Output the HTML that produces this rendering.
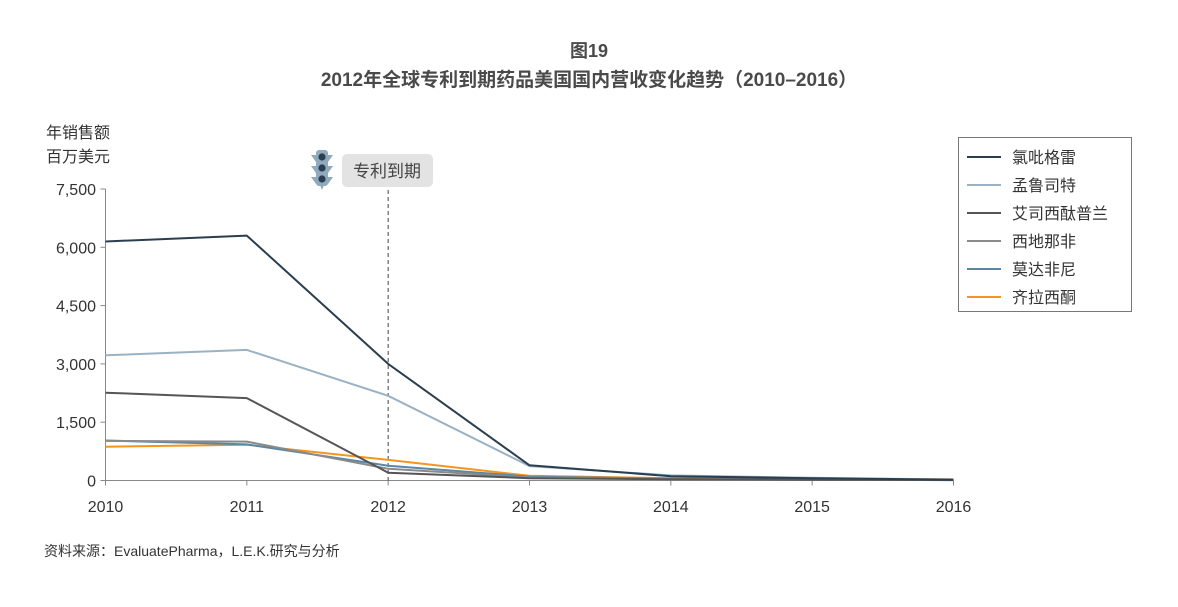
<!DOCTYPE html>
<html><head><meta charset="utf-8">
<style>
body{margin:0;background:#fff;font-family:"Liberation Sans","Noto Sans CJK SC",sans-serif;}
svg text{font-family:"Liberation Sans","Noto Sans CJK SC",sans-serif;}
</style></head>
<body>
<svg id="chart" width="1178" height="602" xmlns="http://www.w3.org/2000/svg">
<text x="589" y="57" text-anchor="middle" font-size="18" font-weight="bold" fill="#4a4a4a">图19</text>
<text x="589" y="86" text-anchor="middle" font-size="19" font-weight="bold" fill="#4a4a4a">2012年全球专利到期药品美国国内营收变化趋势（2010–2016）</text>
<text x="46" y="138" font-size="16" fill="#333">年销售额</text>
<text x="46" y="162" font-size="16" fill="#333">百万美元</text>
<g id="axes"></g>
<g id="series"></g>
<g>
<g>
<rect x="316" y="150" width="12" height="36" rx="3" fill="#8fa9bd"/>
<polygon points="311,155 316,155 316,162" fill="#8fa9bd"/>
<polygon points="333,155 328,155 328,162" fill="#8fa9bd"/>
<polygon points="311,166 316,166 316,173" fill="#8fa9bd"/>
<polygon points="333,166 328,166 328,173" fill="#8fa9bd"/>
<polygon points="311,177 316,177 316,184" fill="#8fa9bd"/>
<polygon points="333,177 328,177 328,184" fill="#8fa9bd"/>
<polygon points="320,185 324,185 322,190" fill="#8fa9bd"/>
<circle cx="322" cy="157" r="3.6" fill="#2b3e50"/><circle cx="322" cy="168" r="3.6" fill="#2b3e50"/><circle cx="322" cy="179" r="3.6" fill="#2b3e50"/>
</g>
<rect x="342" y="154" width="91" height="33" rx="5" fill="#e3e3e3"/>
<text x="387" y="177" text-anchor="middle" font-size="17" fill="#444">专利到期</text>
</g>
<g>
<rect x="958.5" y="137.5" width="173" height="174" fill="#fff" stroke="#777" stroke-width="1"/>
<g id="legend-items"></g>
</g>
<text x="44" y="556" font-size="14" fill="#333">资料来源：EvaluatePharma，L.E.K.研究与分析</text>
</svg>
<script>
const years = [2010, 2011, 2012, 2013, 2014, 2015, 2016];
const yTicks = [0, 1500, 3000, 4500, 6000, 7500];
const yTickLabels = ["0", "1,500", "3,000", "4,500", "6,000", "7,500"];
const seriesNames = ["氯吡格雷", "孟鲁司特", "艾司西酞普兰", "西地那非", "莫达非尼", "齐拉西酮"];
const clopidogrel = [6150, 6300, 3000, 390, 110, 60, 20];
const montelukast = [3220, 3360, 2180, 370, 130, 70, 25];
const escitalopram = [2260, 2120, 200, 60, 30, 20, 10];
const sildenafil = [1020, 1000, 300, 80, 40, 30, 20];
const modafinil = [1030, 930, 380, 100, 50, 30, 15];
const ziprasidone = [870, 920, 530, 120, 60, 40, 30];
const seriesColors = ["#2b3e50", "#9ab2c4", "#555555", "#8a8a8a", "#5a87a5", "#f7941d"];
const seriesData = [clopidogrel, montelukast, escitalopram, sildenafil, modafinil, ziprasidone];
const expiryYear = 2012;

const NS = "http://www.w3.org/2000/svg";
const x0 = 105.5, x1 = 953.5, yBase = 480.5, yTop = 189, yMax = 7500;
function xs(y){ return x0 + (y - years[0]) / (years[years.length-1] - years[0]) * (x1 - x0); }
function ys(v){ return yBase - v / yMax * (yBase - yTop); }
function mk(tag, attrs, parent){ const e = document.createElementNS(NS, tag); for (const k in attrs) e.setAttribute(k, attrs[k]); parent.appendChild(e); return e; }

const axes = document.getElementById('axes');
let yAxis = mk('line', {x1:x0, y1:yTop, x2:x0, y2:yBase, stroke:'#888', 'stroke-width':1}, axes);


let xAxis = mk('line', {x1:x0, y1:yBase, x2:x1, y2:yBase, stroke:'#888', 'stroke-width':1}, axes);


yTicks.forEach((t, i) => {
  const y = ys(t);
  const tk = mk('line', {x1:x0-5, y1:y, x2:x0, y2:y, stroke:'#888'}, axes);
  
  
  const tx = mk('text', {x:96, y:y+6, 'text-anchor':'end', 'font-size':16, fill:'#333'}, axes);
  tx.textContent = yTickLabels[i];
  
  
});
years.forEach(yr => {
  const x = xs(yr);
  const tk = mk('line', {x1:x, y1:yBase, x2:x, y2:yBase+5, stroke:'#888'}, axes);
  
  
  const tx = mk('text', {x:x, y:512, 'text-anchor':'middle', 'font-size':16, fill:'#333'}, axes);
  tx.textContent = String(yr);
  
  
});
const ex = xs(expiryYear);
const dl = mk('line', {x1:ex, y1:190, x2:ex, y2:yBase, stroke:'#444', 'stroke-width':1, 'stroke-dasharray':'4,3'}, axes);



const sg = document.getElementById('series');
const lg = document.getElementById('legend-items');
for (let s = seriesData.length - 1; s >= 0; s--) {
  const pts = seriesData[s].map((v, i) => xs(years[i]).toFixed(1) + ',' + ys(v).toFixed(1)).join(' ');
  const pl = mk('polyline', {points:pts, fill:'none', stroke:seriesColors[s], 'stroke-width':2, 'stroke-linejoin':'round'}, sg);
  
  
}
seriesNames.forEach((n, i) => {
  const y = 157 + i * 28;
  const ln = mk('line', {x1:967, y1:y, x2:1001, y2:y, stroke:seriesColors[i], 'stroke-width':2}, lg);
  
  
  const tx = mk('text', {x:1012, y:y+6, 'font-size':16, fill:'#333'}, lg);
  tx.textContent = n;
  
  
});
</script>
</body></html>
